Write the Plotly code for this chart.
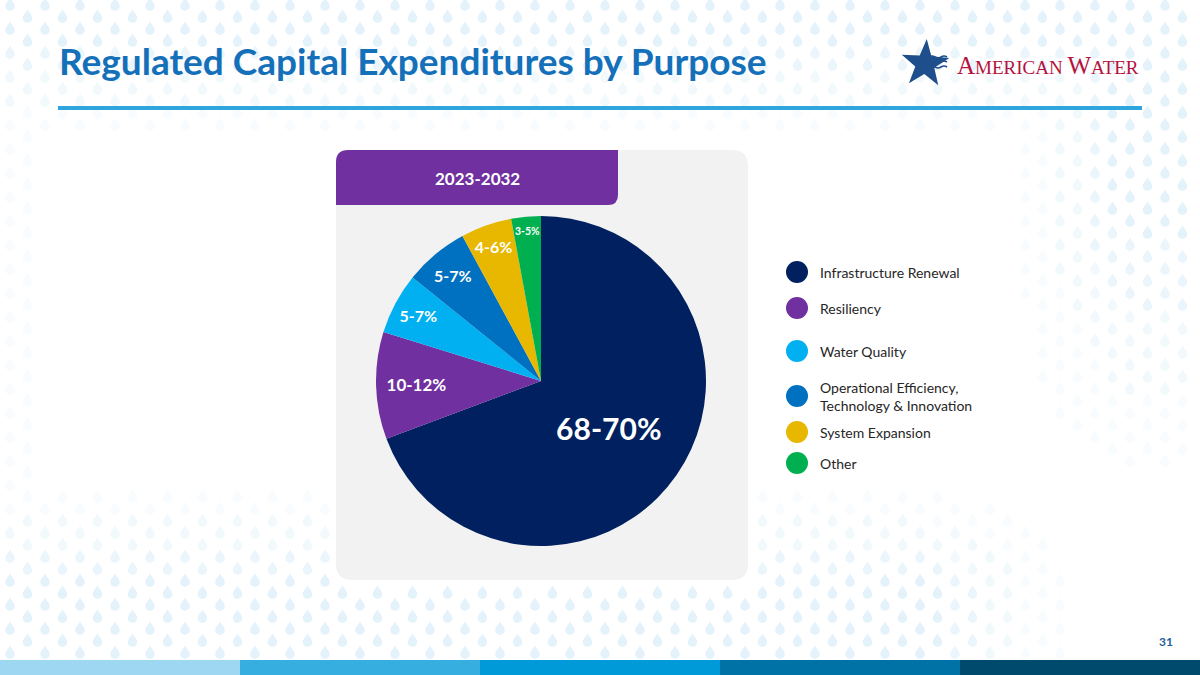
import math
import plotly.graph_objects as go

# ---------------- data ----------------
categories = ["Infrastructure Renewal", "Resiliency", "Water Quality",
              "Operational Efficiency, Technology & Innovation",
              "System Expansion", "Other"]
share_pct = [69.3, 10.5, 6.0, 6.3, 5.0, 2.9]
range_labels = ["68-70%", "10-12%", "5-7%", "5-7%", "4-6%", "3-5%"]
slice_colors = ["#002060", "#7030A0", "#00B0F0", "#0070C0", "#E8B800", "#00B050"]
period_label = "2023-2032"
title_text = "Regulated Capital Expenditures by Purpose"
page_number = "31"

# ---------------- layout helpers ----------------
W, H = 1200, 675
FONT = "Lato"


def px(x):
    return x / W


def py(y):
    return 1 - y / H


def rounded_rect(x0, y0, x1, y1, r_tl=0, r_tr=0, r_br=0, r_bl=0):
    p = [f"M {px(x0 + r_tl)} {py(y0)}", f"L {px(x1 - r_tr)} {py(y0)}"]
    if r_tr:
        p.append(f"Q {px(x1)} {py(y0)} {px(x1)} {py(y0 + r_tr)}")
    p.append(f"L {px(x1)} {py(y1 - r_br)}")
    if r_br:
        p.append(f"Q {px(x1)} {py(y1)} {px(x1 - r_br)} {py(y1)}")
    p.append(f"L {px(x0 + r_bl)} {py(y1)}")
    if r_bl:
        p.append(f"Q {px(x0)} {py(y1)} {px(x0)} {py(y1 - r_bl)}")
    p.append(f"L {px(x0)} {py(y0 + r_tl)}")
    if r_tl:
        p.append(f"Q {px(x0)} {py(y0)} {px(x0 + r_tl)} {py(y0)}")
    p.append("Z")
    return " ".join(p)


def clamp(v):
    return max(0.0, min(1.0, v))


def drop_path(x, y, s=1.0):
    pts = [(0, -7), (1, -4), (5, -1), (5, 2), (5, 5), (2.5, 7), (0, 7),
           (-2.5, 7), (-5, 5), (-5, 2), (-5, -1), (-1, -4), (0, -7)]
    pts = [(x + a * s, y + b * s) for a, b in pts]
    f = lambda q: f"{px(q[0]):.5f} {py(q[1]):.5f}"
    segs = [f"M {f(pts[0])}"]
    for i in range(1, 13, 3):
        segs.append(f"C {f(pts[i])} {f(pts[i + 1])} {f(pts[i + 2])}")
    segs.append("Z")
    return " ".join(segs)


shapes = []
annotations = []

# decorative droplet background (grouped by intensity)
levels = ["#F8FCFE", "#F1F9FD", "#EAF5FC", "#E3F2FB"]
groups = [[] for _ in levels]
row = 0
yy = 4
while yy < 660:
    off = 0 if row % 2 == 0 else 17.5
    xx = 10 + off
    while xx < 1200:
        inside_panel = 330 <= xx <= 754 and 144 <= yy <= 586
        a = clamp((150 - yy) / 110)
        b = clamp((yy - 470) / 110) * clamp((1090 - xx) / 160)
        c = clamp((xx - 990) / 130) * clamp((520 - yy) / 300)
        d = clamp((70 - xx) / 70) * 0.5
        v = max(a, b, c, d)
        lvl = int(v * len(levels) + 0.25)
        if lvl > 0 and not inside_panel:
            groups[min(lvl, len(levels)) - 1].append(drop_path(xx, yy, 0.95))
        xx += 35
    yy += 12
    row += 1
for col, paths in zip(levels, groups):
    if paths:
        shapes.append(dict(type="path", xref="paper", yref="paper", layer="below",
                           path=" ".join(paths), fillcolor=col, line=dict(width=0)))

# background panel and tab
shapes.append(dict(type="path", xref="paper", yref="paper", layer="below",
                   path=rounded_rect(336, 150, 748, 580, 16, 16, 16, 16),
                   fillcolor="#F2F2F2", line=dict(width=0)))
shapes.append(dict(type="path", xref="paper", yref="paper", layer="below",
                   path=rounded_rect(336, 150, 618, 205, 12, 0, 10, 0),
                   fillcolor="#7030A0", line=dict(width=0)))
annotations.append(dict(x=px(477), y=py(178), xref="paper", yref="paper",
                        xanchor="center", yanchor="middle",
                        text=f"<b>{period_label}</b>", showarrow=False,
                        font=dict(family=FONT, size=17, color="white")))

# title and rule
annotations.append(dict(x=px(57), y=py(61), xref="paper", yref="paper",
                        xanchor="left", yanchor="middle",
                        text=f"<b>{title_text}</b>", showarrow=False,
                        font=dict(family=FONT, size=37, color="#1570BA")))
shapes.append(dict(type="rect", xref="paper", yref="paper", layer="below",
                   x0=px(58), x1=px(1142), y0=py(106), y1=py(110),
                   fillcolor="#2EA6DD", line=dict(width=0)))

# logo: star
scx, scy, R, r = 925, 64, 25, 10
pts = []
for i in range(10):
    ang = math.radians(-90 + i * 36 + 4)
    rad = R if i % 2 == 0 else r
    pts.append((scx + rad * math.cos(ang), scy + rad * math.sin(ang)))
star_path = "M " + " L ".join(f"{px(a)} {py(b)}" for a, b in pts) + " Z"
shapes.append(dict(type="path", xref="paper", yref="paper", path=star_path,
                   fillcolor="#1F4E8C", line=dict(width=0)))
for k in range(3):
    wy = 57 + k * 5
    wave = (f"M {px(929)} {py(wy)} Q {px(932)} {py(wy - 2)} {px(935)} {py(wy)} "
            f"Q {px(938)} {py(wy + 2)} {px(941)} {py(wy)} "
            f"Q {px(944)} {py(wy - 2)} {px(947)} {py(wy)}")
    shapes.append(dict(type="path", xref="paper", yref="paper", path=wave,
                       line=dict(color="#1F4E8C", width=1.6)))
annotations.append(dict(x=px(955), y=py(66), xref="paper", yref="paper",
                        xanchor="left", yanchor="middle", showarrow=False,
                        text="<span style='font-size:25px'>A</span>MERICAN "
                             "<span style='font-size:25px'>W</span>ATER",
                        font=dict(family="Liberation Serif", size=19, color="#B5123E")))

# legend (custom circles)
legend_y = [272, 308, 351, 396, 432, 463]
for cat, col, ly in zip(categories, slice_colors, legend_y):
    shapes.append(dict(type="circle", xref="paper", yref="paper",
                       x0=px(786), x1=px(808), y0=py(ly + 11), y1=py(ly - 11),
                       fillcolor=col, line=dict(width=0)))
    label = cat.replace(", ", ",<br>")
    annotations.append(dict(x=px(818), y=py(ly), xref="paper", yref="paper",
                            xanchor="left", yanchor="middle", align="left",
                            text=label, showarrow=False,
                            font=dict(family=FONT, size=14, color="#262626")))

# page number
annotations.append(dict(x=px(1166), y=py(641), xref="paper", yref="paper",
                        xanchor="center", yanchor="middle",
                        text=f"<b>{page_number}</b>", showarrow=False,
                        font=dict(family=FONT, size=12, color="#1F5F99")))

# bottom band
band_colors = ["#9DD7F2", "#36AEE0", "#009AD9", "#0072A6", "#004A6E"]
for i, c in enumerate(band_colors):
    shapes.append(dict(type="rect", xref="paper", yref="paper",
                       x0=px(i * 240), x1=px((i + 1) * 240), y0=0, y1=py(660),
                       fillcolor=c, line=dict(width=0)))

# pie
cx, cy, pr = 541, 381, 165
fig = go.Figure(go.Pie(
    labels=categories, values=share_pct, text=range_labels,
    sort=False, direction="clockwise", rotation=0,
    marker=dict(colors=slice_colors, line=dict(width=0)),
    texttemplate="<b>%{text}</b>", textposition="inside",
    insidetextorientation="horizontal",
    textfont=dict(family=FONT, color="white", size=[30, 17, 16, 16, 16, 11]),
    hoverinfo="label+text",
    domain=dict(x=[px(cx - pr), px(cx + pr)], y=[py(cy + pr), py(cy - pr)]),
    showlegend=False,
))

fig.update_layout(
    width=W, height=H, margin=dict(l=0, r=0, t=0, b=0),
    paper_bgcolor="white", plot_bgcolor="white",
    shapes=shapes, annotations=annotations,
)
fig.write_html("out.html", config={"displayModeBar": False},
               post_script="document.body.style.margin='0';"
                           "document.body.style.overflow='hidden';")
